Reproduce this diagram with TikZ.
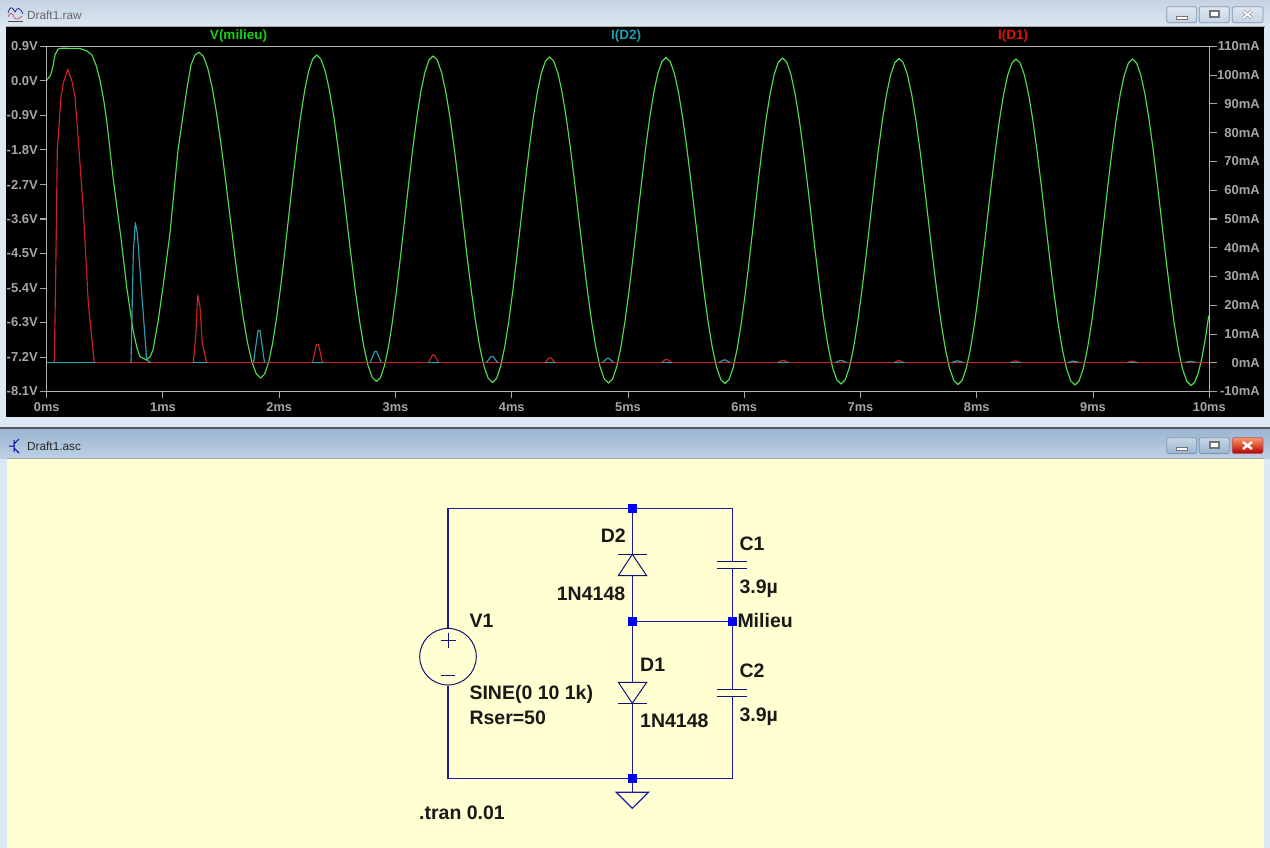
\documentclass[tikz,border=0pt]{standalone}
\usepackage{fontspec}
\setmainfont{Liberation Sans}
\definecolor{winbg}{HTML}{DCE8F4}
\definecolor{barA}{HTML}{C4D3E3}
\definecolor{barB}{HTML}{DDE7F1}
\definecolor{barC}{HTML}{9AB6D2}
\definecolor{barD}{HTML}{BCD0E4}
\definecolor{sheet}{HTML}{FFFFD2}
\definecolor{axisgrey}{HTML}{B4B4B4}
\definecolor{labgrey}{HTML}{A6A6A6}
\definecolor{wgreen}{HTML}{4FDB4F}
\definecolor{wcyan}{HTML}{2E9FB0}
\definecolor{wred}{HTML}{CC2222}
\definecolor{lgreen}{HTML}{14D214}
\definecolor{lcyan}{HTML}{1E9DB0}
\definecolor{lred}{HTML}{E01010}
\definecolor{wire}{HTML}{1A1AA8}
\definecolor{junc}{HTML}{0000F0}
\definecolor{btnedge}{HTML}{7F93AB}
\newcommand{\redpulse}[2]{\draw[redw] ({#1-5},362.5) -- ({#1-1},{362.5-#2}) -- ({#1+1},{362.5-#2}) -- ({#1+5},362.5);\draw[cyanw] ({#1-5.5},362.5) -- ({#1+5.5},362.5);}
\newcommand{\cyanpulse}[2]{\draw[cyanw] ({#1-5.5},362.5) -- ({#1-1},{362.5-#2}) -- ({#1+1},{362.5-#2}) -- ({#1+5.5},362.5);}
\tikzset{
  axisline/.style={draw=axisgrey,line width=1pt},
  ticks/.style={draw=labgrey,line width=1pt},
  ylab/.style={anchor=east,inner sep=0pt,text=labgrey,font=\fontsize{13}{13}\selectfont\bfseries},
  xlab/.style={anchor=center,inner sep=0pt,text=labgrey,font=\fontsize{12.8}{13}\selectfont\bfseries},
  tracelab/.style={anchor=center,inner sep=0pt,font=\fontsize{13.5}{14}\selectfont\bfseries},
  greenw/.style={draw=wgreen,line width=1.15pt,line join=round,line cap=round},
  cyanw/.style={draw=wcyan,line width=1.15pt,line join=round},
  redw/.style={draw=wred,line width=1.15pt,line join=round},
  wireline/.style={draw=wire,line width=1.2pt},
  part/.style={draw=wire!70!black,line width=1pt},
  junction/.style={fill=junc,draw=none,minimum size=8.5pt,inner sep=0pt,rectangle},
  schlab/.style={anchor=base west,inner sep=0pt,text=black!90,font=\fontsize{19.5}{19.5}\selectfont\bfseries},
  titlelab/.style={anchor=west,inner sep=0pt,font=\fontsize{11.8}{12}\selectfont},
  winbtn/.style={draw=btnedge,rounded corners=2pt,line width=0.7pt,top color=#1!55!white,bottom color=#1},
}
\begin{document}
\begin{tikzpicture}[x=1pt,y=-1pt]
\useasboundingbox (0,0) rectangle (1270,848);
\clip (0,0) rectangle (1270,848);
% window chrome
\fill[winbg] (0,0) rectangle (1270,848);
\shade[top color=barA,bottom color=barB] (0,0) rectangle (1270,27);
\fill[black!65] (0,426.5) rectangle (1270,429);
\shade[top color=barC,bottom color=barD] (0,429) rectangle (1270,458);
\fill[gray!70] (5.5,26) rectangle (1264.5,28);
\fill[black] (6,27) rectangle (1264,417);
\fill[sheet] (7,458.5) rectangle (1264,848);
\draw[gray!70,line width=0.8pt] (7,458) -- (1264,458);
% title bars
\node[titlelab,text=black!60] (rawtitle) at (27,15) {Draft1.raw};
\node[titlelab,text=black!85] (asctitle) at (27,446) {Draft1.asc};
\draw[black!70,line width=0.7pt] (8,21) -- (23,21);
\draw[red!50!gray,line width=0.6pt] (8,17) .. controls (10,12) and (12,12) .. (14,17) .. controls (16,20) and (18,20) .. (22,16);
\draw[black!55!blue,line width=0.6pt] (8,13) .. controls (10,6) and (12,6) .. (15,12) .. controls (17,7) and (20,7) .. (23,14);
\draw[junc!70!black,line width=1pt] (9,446) -- (14,446) (14,440) -- (14,452) (14,444) -- (19,439) (14,448) -- (19,453);
\fill[junc] (19,453) -- (16.5,452) -- (18,450.5) -- cycle;
% buttons
\path[winbtn=barA] (1166.7,6.7) rectangle (1196.7,22.7);
\path[winbtn=barA] (1199.3,6.7) rectangle (1229.3,22.7);
\path[winbtn=barA] (1232.3,6.7) rectangle (1263,22.7);
\path[winbtn=barC] (1166.7,437.7) rectangle (1196.7,453.5);
\path[winbtn=barC] (1199.3,437.7) rectangle (1229.3,453.5);
\path[draw=btnedge!60!red,rounded corners=2pt,line width=0.7pt,top color=red!35!orange!60!white,bottom color=red!70!black] (1232.3,437.7) rectangle (1263,453.5);
\foreach \yy in {0,431} {
  \fill[white] (1176,{16.5+\yy}) rectangle (1187,{19+\yy});
  \draw[black!55,line width=0.5pt] (1176,{16.5+\yy}) rectangle (1187,{19+\yy});
  \draw[black!55,line width=1.1pt,fill=white] (1210,{11+\yy}) rectangle (1219,{17+\yy});
}
\draw[black!50,line width=3pt] (1243,11) -- (1252,18) (1252,11) -- (1243,18);
\draw[white,line width=1.8pt] (1243,11) -- (1252,18) (1252,11) -- (1243,18);
\draw[white,line width=2.4pt] (1243,442) -- (1252,449) (1252,442) -- (1243,449);
% axes
\draw[axisline] (46.7,46.5) rectangle (1209.3,391.5);
\foreach \yt/\lab [count=\i from 0] in {46.5/0.9V,81/0.0V,115.5/-0.9V,150/-1.8V,184.5/-2.7V,219/-3.6V,253.5/-4.5V,288/-5.4V,322.5/-6.3V,357/-7.2V,391.5/-8.1V} {
  \draw[ticks] (39.5,\yt) -- (46.7,\yt);
  \node[ylab] (l\i) at (38,\yt) {\lab};
}
\foreach \yt/\lab [count=\i from 0] in {46.5/110mA,75.25/100mA,104/90mA,132.75/80mA,161.5/70mA,190.25/60mA,219/50mA,247.75/40mA,276.5/30mA,305.25/20mA,334/10mA,362.75/0mA,391.5/-10mA} {
  \draw[ticks] (1209.3,\yt) -- (1217,\yt);
  \node[ylab] (r\i) at (1260,\yt) {\lab};
}
\foreach \n in {0,...,10} {
  \draw[ticks] ({46.7+116.26*\n},391.5) -- ({46.7+116.26*\n},398);
  \node[xlab] (b\n) at ({46.7+116.26*\n},407.5) {\n ms};
}
\node[tracelab,text=lgreen] (tv) at (238.5,36) {V(milieu)};
\node[tracelab,text=lcyan] (ti2) at (626,36) {I(D2)};
\node[tracelab,text=lred] (ti1) at (1013,36) {I(D1)};
% green trace: first cycle
\draw[greenw] (46.7,80.5) -- (50.7,75) -- (53,66) -- (55,55) -- (58,49) -- (62,48.2) -- (80,48.6) -- (87,51) -- (92,55) -- (96,65) -- (100,80) -- (104,102) -- (107,123) -- (113,177) -- (117.3,210) -- (121,238) -- (126.7,287) -- (133,330) -- (137,348) -- (140,356.7) -- (146.7,360) -- (150,357) -- (153,350) -- (158,322) -- (163,287) -- (170,233) -- (178,150) -- (186.7,90) -- (191,65) -- (195,55) -- (199,52.3);
% green trace: half waves between extrema
\foreach \xa/\ya/\xb/\yb in {199/52.3/260.7/378,260.7/378/316.7/55,316.7/55/376.5/381.5,376.5/381.5/433/56,433/56/492.5/382.5,492.5/382.5/549.5/57,549.5/57/608.5/383,608.5/383/666/57.5,666/57.5/725/383.5,725/383.5/782.5/58,782.5/58/841/384,841/384/899/58.5,899/58.5/958/384.5,958/384.5/1016/59,1016/59/1075/385,1075/385/1132.5/59,1132.5/59/1191/385.5} {
  \draw[greenw] plot[domain=0:180,samples=15] ({\xa+(\xb-\xa)*\x/180},{(\ya+\yb)/2+(\ya-\yb)/2*cos(\x)});
}
\draw[greenw] plot[domain=0:55,samples=6] ({1191+58*\x/180},{222.2+163.3*cos(\x)});
% red trace
\draw[redw] (46.7,362.5) -- (1209.3,362.5);
\draw[redw] (53,362.5) -- (54.3,362) -- (55.7,276.7) -- (57.3,150) -- (61,96.7) -- (63.3,83) -- (67.7,69.3) -- (71.7,80) -- (75,96.7) -- (78.3,140) -- (83.3,210) -- (88.3,303) -- (94.3,362.5);
\draw[redw] (193.3,362.5) -- (195.7,336.7) -- (197.7,295) -- (200,306.7) -- (202.3,343.3) -- (206.7,362.5);
% cyan trace
\draw[cyanw] (46.7,362.5) -- (95,362.5);
\draw[cyanw] (193,362.5) -- (207,362.5);
\draw[cyanw] (131,362.5) -- (133.3,253) -- (135.3,222.7) -- (137.3,233) -- (140,270) -- (146.7,360) -- (150.7,362.5);
\cyanpulse{259}{32}
\redpulse{317.5}{18}
\cyanpulse{375.7}{11}
\redpulse{433.5}{7.5}
\cyanpulse{492}{6}
\redpulse{550}{4.5}
\cyanpulse{608}{4}
\redpulse{666.5}{3}
\cyanpulse{724.5}{2.5}
\redpulse{783}{2}
\cyanpulse{841}{2}
\redpulse{899}{1.8}
\cyanpulse{957.5}{1.5}
\redpulse{1015.5}{1.5}
\cyanpulse{1073.5}{1.2}
\redpulse{1132}{1.2}
\cyanpulse{1190.5}{1}
% schematic junctions and anchors
\node[junction] (top) at (632.3,508.3) {};
\node[junction] (mid) at (632.3,621.5) {};
\node[junction] (milieu) at (732.5,621.5) {};
\node[junction] (bot) at (632.3,778.3) {};
\coordinate (tl) at (448,508.3);
\coordinate (tr) at (732.5,508.3);
\coordinate (bl) at (448,778.3);
\coordinate (br) at (732.5,778.3);
\node[draw=wire!70!black,line width=1pt,circle,minimum size=56.6pt,inner sep=0pt] (v1) at (448,656.7) {};
\coordinate (d2k) at (632.3,554.3);
\coordinate (d2a) at (632.3,575.7);
\coordinate (d1a) at (632.3,682.3);
\coordinate (d1k) at (632.3,703.3);
\coordinate (c1t) at (732.5,561);
\coordinate (c1b) at (732.5,568.7);
\coordinate (c2t) at (732.5,689.3);
\coordinate (c2b) at (732.5,696.7);
\coordinate (gnd) at (632.3,792.3);
% wires
\draw[wireline] (v1.north) -- (tl) -- (top) -- (tr) -- (c1t);
\draw[wireline] (c1b) -- (milieu) -- (c2t);
\draw[wireline] (c2b) -- (br) -- (bot) -- (bl) -- (v1.south);
\draw[wireline] (top) -- (d2k);
\draw[wireline] (d2a) -- (mid);
\draw[wireline] (mid) -- (milieu);
\draw[wireline] (mid) -- (d1a);
\draw[wireline] (d1k) -- (bot);
\draw[wireline] (bot) -- (gnd);
% source symbols
\draw[part] (440.5,640) -- (455.5,640) (448,632.5) -- (448,647.5);
\draw[part] (441,675) -- (455,675);
% diodes
\draw[part] (618.3,554.3) -- (646.7,554.3);
\draw[part] (d2k) -- (618.3,575.7) -- (646.7,575.7) -- cycle;
\draw[part] (618.3,703.3) -- (646.7,703.3);
\draw[part] (d1k) -- (618.3,682.3) -- (646.7,682.3) -- cycle;
% capacitors
\draw[part] (716.7,561) -- (746.7,561) (716.7,568.7) -- (746.7,568.7);
\draw[part] (716.7,689.3) -- (746.7,689.3) (716.7,696.7) -- (746.7,696.7);
% ground
\draw[wireline] (616.3,792.3) -- (648.5,792.3) -- (632.3,808.3) -- cycle;
% labels
\node[schlab] (ld2) at (600.7,542.7) {D2};
\node[schlab] (lm2) at (556.7,600) {1N4148};
\node[schlab] (lc1) at (739.3,550) {C1};
\node[schlab] (lv1c) at (739.3,593.3) {3.9µ};
\node[schlab] (lv1) at (469.3,627.7) {V1};
\node[schlab] (lmil) at (737.3,627.7) {Milieu};
\node[schlab] (ld1) at (640,671) {D1};
\node[schlab] (lc2) at (739.3,677.7) {C2};
\node[schlab] (lv2c) at (739.3,721) {3.9µ};
\node[schlab] (lsin) at (469.3,699.3) {SINE(0 10 1k)};
\node[schlab] (lrs) at (469.3,724) {Rser=50};
\node[schlab] (lm1) at (640,727.7) {1N4148};
\node[schlab] (ltr) at (419,819.3) {.tran 0.01};
\end{tikzpicture}
\end{document}
